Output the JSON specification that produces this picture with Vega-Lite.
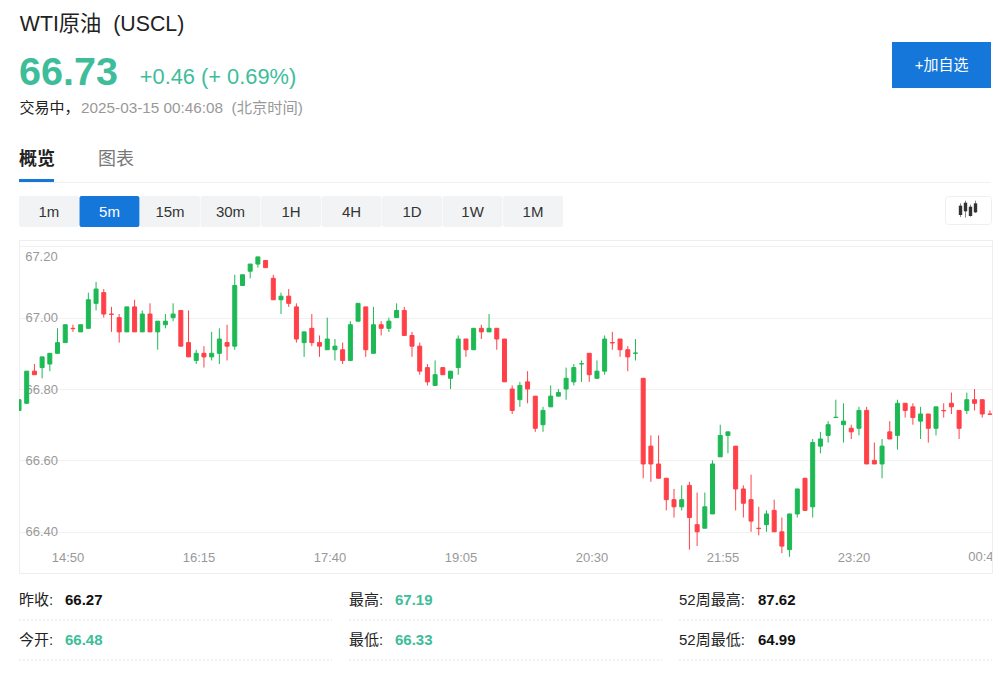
{"$schema":"https://vega.github.io/schema/vega-lite/v6.json","background":"white","padding":{"left":18,"right":15,"top":0,"bottom":0},"config":{"font":"Liberation Sans, Noto Sans CJK SC","view":{"stroke":null},"text":{"font":"Liberation Sans, Noto Sans CJK SC"}},"spacing":12,"vconcat":[
{"spacing":0,"vconcat":[
{"spacing":595,"hconcat":[
{"spacing":0,"vconcat":[
{"width":166,"height":48,"data":{"values":[{"label":"WTI原油\u00a0\u00a0(USCL)"}]},"mark":{"type":"text","fontSize":21.3,"color":"#222222","dy":1},"encoding":{"text":{"field":"label"}}},
{"spacing":21,"hconcat":[
{"width":99,"height":48,"data":{"values":[{"label":"66.73"}]},"mark":{"type":"text","fontSize":39.5,"fontWeight":"bold","color":"#3dbd9a","dy":1},"encoding":{"text":{"field":"label"}}},
{"width":158,"height":48,"data":{"values":[{"label":"+0.46 (+ 0.69%)"}]},"mark":{"type":"text","fontSize":21.8,"color":"#3dbd9a","dy":5},"encoding":{"text":{"field":"label"}}}
]}
]},
{"spacing":0,"vconcat":[
{"width":99,"height":42,"data":{"values":[{"part":"gap"}]},"mark":{"type":"bar","opacity":0},"encoding":{}},
{"width":99,"height":46,"data":{"values":[{"label":"+加自选"}]},"layer":[{"mark":{"type":"bar","color":"#1677db"},"encoding":{}},{"mark":{"type":"text","fontSize":15,"color":"white"},"encoding":{"text":{"field":"label"}}}]}
]}
]},
{"spacing":0,"hconcat":[
{"width":61,"height":24,"data":{"values":[{"label":"交易中\uff0c"}]},"mark":{"type":"text","fontSize":15,"color":"#222222"},"encoding":{"text":{"field":"label"}}},
{"width":224,"height":24,"data":{"values":[{"label":"2025-03-15 00:46:08\u00a0\u00a0(北京时间)"}]},"mark":{"type":"text","fontSize":15.3,"color":"#999999"},"encoding":{"text":{"field":"label"}}}
]},
{"spacing":43,"hconcat":[
{"width":36,"height":59,"data":{"values":[{"label":"概览"}]},"mark":{"type":"text","fontSize":18,"fontWeight":"bold","color":"#222222","dy":10.5},"encoding":{"text":{"field":"label"}}},
{"width":36,"height":59,"data":{"values":[{"label":"图表"}]},"mark":{"type":"text","fontSize":18,"color":"#777777","dy":10.5},"encoding":{"text":{"field":"label"}}}
]},
{"width":35,"height":3,"data":{"values":[{"part":"tab"}]},"mark":{"type":"bar","color":"#1677db"},"encoding":{}},
{"width":972,"height":1,"data":{"values":[{"part":"line"}]},"mark":{"type":"bar","color":"#f0f0f0"},"encoding":{}}
]},
{"spacing":381,"hconcat":[
{"width":544,"height":31,"data":{"values":[{"label":"1m","on":false},{"label":"5m","on":true},{"label":"15m","on":false},{"label":"30m","on":false},{"label":"1H","on":false},{"label":"4H","on":false},{"label":"1D","on":false},{"label":"1W","on":false},{"label":"1M","on":false}]},"encoding":{"x":{"field":"label","type":"nominal","sort":null,"axis":null,"scale":{"type":"band","paddingInner":0.01,"paddingOuter":0}}},"layer":[{"mark":{"type":"bar","cornerRadius":2},"encoding":{"color":{"condition":{"test":"datum.on","value":"#1677db"},"value":"#f2f3f5"}}},{"mark":{"type":"text","fontSize":15},"encoding":{"text":{"field":"label"},"color":{"condition":{"test":"datum.on","value":"white"},"value":"#333333"}}}]},
{"width":46,"height":28,"view":{"stroke":"#eceff4","fill":"white","cornerRadius":3},"data":{"values":[{"c":"a","lo":21,"hi":62,"b0":27,"b1":55},{"c":"b","lo":19,"hi":70,"b0":38,"b1":64},{"c":"c","lo":22,"hi":58,"b0":24,"b1":52},{"c":"d","lo":33,"hi":70,"b0":35,"b1":62}]},"encoding":{"x":{"field":"c","type":"nominal","axis":null,"scale":{"type":"point","padding":0,"range":[15.5,30.5]}}},"layer":[{"mark":{"type":"rule","color":"#888888","strokeWidth":1},"encoding":{"y":{"field":"lo","type":"quantitative","axis":null,"scale":{"domain":[0,84],"nice":false}},"y2":{"field":"hi"}}},{"mark":{"type":"bar","color":"#333333","size":3.4},"encoding":{"y":{"field":"b0","type":"quantitative","axis":null,"scale":{"domain":[0,84],"nice":false}},"y2":{"field":"b1"}}}]}
]},
{"width":973,"height":333,"view":{"stroke":"#eeeeee"},"encoding":{"x":{"field":"t","type":"temporal","title":null,"scale":{"domain":["2025-03-14T14:20","2025-03-15T00:51:20"],"nice":false,"padding":0},"axis":{"values":["2025-03-14T14:50","2025-03-14T16:15","2025-03-14T17:40","2025-03-14T19:05","2025-03-14T20:30","2025-03-14T21:55","2025-03-14T23:20"],"format":"%H:%M","domain":false,"ticks":false,"grid":false,"labelPadding":0,"offset":-22,"labelOffset":2.3,"labelBaseline":"top","labelColor":"#999999","labelFontSize":13,"labelOverlap":false,"labelFlush":false}}},"layer":[
{"data":{"name":"candles"},"mark":{"type":"rule","strokeWidth":1,"clip":true},"encoding":{"y":{"field":"l","type":"quantitative","title":null,"scale":{"domain":[66.2846,67.2174],"nice":false,"zero":false},"axis":{"values":[66.4,66.6,66.8,67.0,67.2],"format":".2f","labelExpr":"datum.value>67.1?'':datum.label","orient":"left","offset":-6,"domain":false,"ticks":false,"tickSize":0,"labelPadding":0,"labelAlign":"left","labelColor":"#999999","labelFontSize":13,"grid":true,"gridColor":"#f1f1f1","gridWidth":1}},"y2":{"field":"h"},"color":{"condition":{"test":"datum.c>=datum.o","value":"#1db954"},"value":"#ff4048"}}},
{"data":{"name":"candles"},"mark":{"type":"bar","size":4,"strokeWidth":1,"clip":true},"encoding":{"y":{"field":"o","type":"quantitative"},"y2":{"field":"c"},"color":{"condition":{"test":"datum.c>=datum.o","value":"#1db954"},"value":"#ff4048"},"stroke":{"condition":{"test":"datum.c>=datum.o","value":"#1db954"},"value":"#ff4048"}}},
{"data":{"values":[{"t":"2025-03-15T00:45","label":"00:45"}]},"mark":{"type":"text","fontSize":13,"color":"#999999","clip":true,"dx":2.3},"encoding":{"y":{"datum":66.329,"type":"quantitative"},"text":{"field":"label"}}},
{"data":{"values":[{"t":"2025-03-14T14:24:00","label":"67.20"}]},"mark":{"type":"text","align":"left","fontSize":13,"color":"#999999"},"encoding":{"y":{"datum":67.169,"type":"quantitative"},"text":{"field":"label"}}}
]},
{"width":973,"height":89,"data":{"values":[{"col":"a","row":"r1","label":"昨收:","value":"66.27","tone":"plain"},{"col":"b","row":"r1","label":"最高:","value":"67.19","tone":"up"},{"col":"c","row":"r1","label":"52周最高:","value":"87.62","tone":"plain"},{"col":"a","row":"r2","label":"今开:","value":"66.48","tone":"up"},{"col":"b","row":"r2","label":"最低:","value":"66.33","tone":"up"},{"col":"c","row":"r2","label":"52周最低:","value":"64.99","tone":"plain"}]},"encoding":{"x":{"field":"col","type":"nominal","axis":null,"scale":{"type":"point","padding":0,"range":[0,660]}},"y":{"field":"row","type":"nominal","axis":null,"scale":{"type":"point","padding":0,"range":[34,74]}}},"layer":[
{"mark":{"type":"rule","color":"#e2e2e2","strokeDash":[2,2],"x2Offset":313},"encoding":{"x2":{"field":"col"}}},
{"mark":{"type":"text","align":"left","fontSize":15,"color":"#222222","dy":-20},"encoding":{"text":{"field":"label"}}},
{"transform":[{"filter":"datum.col!=='c'"}],"mark":{"type":"text","align":"left","fontSize":15,"fontWeight":"bold","dx":46,"dy":-20},"encoding":{"text":{"field":"value"},"color":{"condition":{"test":"datum.tone==='up'","value":"#3dbd9a"},"value":"#111111"}}},
{"transform":[{"filter":"datum.col==='c'"}],"mark":{"type":"text","align":"left","fontSize":15,"fontWeight":"bold","dx":79,"dy":-20},"encoding":{"text":{"field":"value"},"color":{"value":"#111111"}}}
]}
],"datasets":{"candles":[
{"t":"2025-03-14T14:20","o":66.74,"h":66.77,"l":66.74,"c":66.77},
{"t":"2025-03-14T14:25","o":66.76,"h":66.85,"l":66.76,"c":66.85},
{"t":"2025-03-14T14:30","o":66.85,"h":66.87,"l":66.84,"c":66.84},
{"t":"2025-03-14T14:35","o":66.86,"h":66.89,"l":66.83,"c":66.89},
{"t":"2025-03-14T14:40","o":66.87,"h":66.90,"l":66.85,"c":66.90},
{"t":"2025-03-14T14:45","o":66.90,"h":66.97,"l":66.90,"c":66.93},
{"t":"2025-03-14T14:50","o":66.93,"h":66.98,"l":66.93,"c":66.98},
{"t":"2025-03-14T14:55","o":66.97,"h":66.98,"l":66.96,"c":66.969},
{"t":"2025-03-14T15:00","o":66.96,"h":66.98,"l":66.96,"c":66.98},
{"t":"2025-03-14T15:05","o":66.97,"h":67.07,"l":66.97,"c":67.05},
{"t":"2025-03-14T15:10","o":67.04,"h":67.10,"l":67.02,"c":67.08},
{"t":"2025-03-14T15:15","o":67.07,"h":67.08,"l":67.00,"c":67.01},
{"t":"2025-03-14T15:20","o":67.01,"h":67.03,"l":66.96,"c":67.009},
{"t":"2025-03-14T15:25","o":67.00,"h":67.01,"l":66.93,"c":66.96},
{"t":"2025-03-14T15:30","o":66.96,"h":67.03,"l":66.96,"c":67.03},
{"t":"2025-03-14T15:35","o":67.03,"h":67.05,"l":66.96,"c":66.96},
{"t":"2025-03-14T15:40","o":66.96,"h":67.02,"l":66.96,"c":67.01},
{"t":"2025-03-14T15:45","o":67.01,"h":67.04,"l":66.96,"c":66.96},
{"t":"2025-03-14T15:50","o":66.96,"h":66.99,"l":66.91,"c":66.99},
{"t":"2025-03-14T15:55","o":66.98,"h":67.01,"l":66.97,"c":66.99},
{"t":"2025-03-14T16:00","o":67.00,"h":67.04,"l":66.99,"c":67.01},
{"t":"2025-03-14T16:05","o":67.02,"h":67.02,"l":66.92,"c":66.92},
{"t":"2025-03-14T16:10","o":66.93,"h":67.02,"l":66.89,"c":66.89},
{"t":"2025-03-14T16:15","o":66.88,"h":66.91,"l":66.87,"c":66.90},
{"t":"2025-03-14T16:20","o":66.90,"h":66.92,"l":66.86,"c":66.89},
{"t":"2025-03-14T16:25","o":66.89,"h":66.96,"l":66.88,"c":66.90},
{"t":"2025-03-14T16:30","o":66.90,"h":66.97,"l":66.87,"c":66.94},
{"t":"2025-03-14T16:35","o":66.93,"h":66.98,"l":66.88,"c":66.92},
{"t":"2025-03-14T16:40","o":66.92,"h":67.12,"l":66.91,"c":67.09},
{"t":"2025-03-14T16:45","o":67.09,"h":67.12,"l":67.09,"c":67.12},
{"t":"2025-03-14T16:50","o":67.13,"h":67.15,"l":67.11,"c":67.15},
{"t":"2025-03-14T16:55","o":67.15,"h":67.17,"l":67.14,"c":67.17},
{"t":"2025-03-14T17:00","o":67.16,"h":67.16,"l":67.14,"c":67.14},
{"t":"2025-03-14T17:05","o":67.11,"h":67.12,"l":67.05,"c":67.05},
{"t":"2025-03-14T17:10","o":67.05,"h":67.07,"l":67.01,"c":67.06},
{"t":"2025-03-14T17:15","o":67.06,"h":67.08,"l":67.03,"c":67.04},
{"t":"2025-03-14T17:20","o":67.03,"h":67.04,"l":66.93,"c":66.94},
{"t":"2025-03-14T17:25","o":66.93,"h":66.96,"l":66.89,"c":66.96},
{"t":"2025-03-14T17:30","o":66.97,"h":67.01,"l":66.92,"c":66.93},
{"t":"2025-03-14T17:35","o":66.93,"h":66.95,"l":66.89,"c":66.92},
{"t":"2025-03-14T17:40","o":66.91,"h":67.00,"l":66.91,"c":66.94},
{"t":"2025-03-14T17:45","o":66.91,"h":66.94,"l":66.88,"c":66.92},
{"t":"2025-03-14T17:50","o":66.91,"h":66.93,"l":66.87,"c":66.88},
{"t":"2025-03-14T17:55","o":66.88,"h":66.99,"l":66.88,"c":66.98},
{"t":"2025-03-14T18:00","o":66.99,"h":67.04,"l":66.99,"c":67.04},
{"t":"2025-03-14T18:05","o":67.03,"h":67.03,"l":66.89,"c":66.91},
{"t":"2025-03-14T18:10","o":66.90,"h":67.03,"l":66.90,"c":66.98},
{"t":"2025-03-14T18:15","o":66.98,"h":66.99,"l":66.95,"c":66.97},
{"t":"2025-03-14T18:20","o":66.97,"h":67.00,"l":66.96,"c":66.99},
{"t":"2025-03-14T18:25","o":67.00,"h":67.04,"l":67.00,"c":67.02},
{"t":"2025-03-14T18:30","o":67.02,"h":67.03,"l":66.95,"c":66.95},
{"t":"2025-03-14T18:35","o":66.95,"h":66.96,"l":66.89,"c":66.92},
{"t":"2025-03-14T18:40","o":66.92,"h":66.93,"l":66.84,"c":66.85},
{"t":"2025-03-14T18:45","o":66.86,"h":66.87,"l":66.81,"c":66.82},
{"t":"2025-03-14T18:50","o":66.81,"h":66.88,"l":66.81,"c":66.84},
{"t":"2025-03-14T18:55","o":66.86,"h":66.86,"l":66.84,"c":66.84},
{"t":"2025-03-14T19:00","o":66.83,"h":66.85,"l":66.80,"c":66.85},
{"t":"2025-03-14T19:05","o":66.86,"h":66.95,"l":66.84,"c":66.94},
{"t":"2025-03-14T19:10","o":66.94,"h":66.94,"l":66.89,"c":66.91},
{"t":"2025-03-14T19:15","o":66.91,"h":66.97,"l":66.91,"c":66.97},
{"t":"2025-03-14T19:20","o":66.97,"h":66.98,"l":66.94,"c":66.96},
{"t":"2025-03-14T19:25","o":66.96,"h":67.01,"l":66.96,"c":66.97},
{"t":"2025-03-14T19:30","o":66.97,"h":66.97,"l":66.91,"c":66.94},
{"t":"2025-03-14T19:35","o":66.94,"h":66.94,"l":66.82,"c":66.82},
{"t":"2025-03-14T19:40","o":66.80,"h":66.81,"l":66.73,"c":66.74},
{"t":"2025-03-14T19:45","o":66.77,"h":66.82,"l":66.75,"c":66.81},
{"t":"2025-03-14T19:50","o":66.82,"h":66.85,"l":66.76,"c":66.80},
{"t":"2025-03-14T19:55","o":66.78,"h":66.78,"l":66.68,"c":66.69},
{"t":"2025-03-14T20:00","o":66.70,"h":66.75,"l":66.68,"c":66.74},
{"t":"2025-03-14T20:05","o":66.75,"h":66.81,"l":66.75,"c":66.78},
{"t":"2025-03-14T20:10","o":66.78,"h":66.80,"l":66.78,"c":66.79},
{"t":"2025-03-14T20:15","o":66.80,"h":66.86,"l":66.77,"c":66.83},
{"t":"2025-03-14T20:20","o":66.82,"h":66.87,"l":66.81,"c":66.86},
{"t":"2025-03-14T20:25","o":66.87,"h":66.88,"l":66.82,"c":66.871},
{"t":"2025-03-14T20:30","o":66.90,"h":66.90,"l":66.82,"c":66.84},
{"t":"2025-03-14T20:35","o":66.83,"h":66.88,"l":66.83,"c":66.85},
{"t":"2025-03-14T20:40","o":66.85,"h":66.95,"l":66.84,"c":66.94},
{"t":"2025-03-14T20:45","o":66.93,"h":66.96,"l":66.91,"c":66.929},
{"t":"2025-03-14T20:50","o":66.94,"h":66.94,"l":66.89,"c":66.91},
{"t":"2025-03-14T20:55","o":66.91,"h":66.92,"l":66.85,"c":66.89},
{"t":"2025-03-14T21:00","o":66.90,"h":66.94,"l":66.88,"c":66.901},
{"t":"2025-03-14T21:05","o":66.83,"h":66.83,"l":66.55,"c":66.59},
{"t":"2025-03-14T21:10","o":66.64,"h":66.67,"l":66.54,"c":66.59},
{"t":"2025-03-14T21:15","o":66.59,"h":66.67,"l":66.55,"c":66.55},
{"t":"2025-03-14T21:20","o":66.55,"h":66.55,"l":66.46,"c":66.49},
{"t":"2025-03-14T21:25","o":66.49,"h":66.52,"l":66.44,"c":66.47},
{"t":"2025-03-14T21:30","o":66.47,"h":66.53,"l":66.46,"c":66.49},
{"t":"2025-03-14T21:35","o":66.53,"h":66.54,"l":66.35,"c":66.44},
{"t":"2025-03-14T21:40","o":66.42,"h":66.51,"l":66.36,"c":66.40},
{"t":"2025-03-14T21:45","o":66.41,"h":66.51,"l":66.41,"c":66.47},
{"t":"2025-03-14T21:50","o":66.45,"h":66.60,"l":66.45,"c":66.59},
{"t":"2025-03-14T21:55","o":66.61,"h":66.70,"l":66.61,"c":66.67},
{"t":"2025-03-14T22:00","o":66.67,"h":66.68,"l":66.62,"c":66.68},
{"t":"2025-03-14T22:05","o":66.64,"h":66.64,"l":66.46,"c":66.52},
{"t":"2025-03-14T22:10","o":66.52,"h":66.53,"l":66.44,"c":66.48},
{"t":"2025-03-14T22:15","o":66.49,"h":66.56,"l":66.40,"c":66.43},
{"t":"2025-03-14T22:20","o":66.41,"h":66.47,"l":66.39,"c":66.409},
{"t":"2025-03-14T22:25","o":66.42,"h":66.46,"l":66.40,"c":66.45},
{"t":"2025-03-14T22:30","o":66.46,"h":66.49,"l":66.40,"c":66.40},
{"t":"2025-03-14T22:35","o":66.40,"h":66.44,"l":66.34,"c":66.36},
{"t":"2025-03-14T22:40","o":66.35,"h":66.45,"l":66.33,"c":66.45},
{"t":"2025-03-14T22:45","o":66.45,"h":66.52,"l":66.44,"c":66.52},
{"t":"2025-03-14T22:50","o":66.55,"h":66.55,"l":66.46,"c":66.46},
{"t":"2025-03-14T22:55","o":66.47,"h":66.66,"l":66.44,"c":66.65},
{"t":"2025-03-14T23:00","o":66.64,"h":66.68,"l":66.62,"c":66.66},
{"t":"2025-03-14T23:05","o":66.67,"h":66.71,"l":66.65,"c":66.70},
{"t":"2025-03-14T23:10","o":66.72,"h":66.77,"l":66.72,"c":66.721},
{"t":"2025-03-14T23:15","o":66.70,"h":66.76,"l":66.65,"c":66.71},
{"t":"2025-03-14T23:20","o":66.69,"h":66.70,"l":66.66,"c":66.68},
{"t":"2025-03-14T23:25","o":66.69,"h":66.75,"l":66.67,"c":66.74},
{"t":"2025-03-14T23:30","o":66.74,"h":66.75,"l":66.59,"c":66.59},
{"t":"2025-03-14T23:35","o":66.60,"h":66.65,"l":66.59,"c":66.59},
{"t":"2025-03-14T23:40","o":66.59,"h":66.66,"l":66.55,"c":66.64},
{"t":"2025-03-14T23:45","o":66.68,"h":66.71,"l":66.66,"c":66.66},
{"t":"2025-03-14T23:50","o":66.67,"h":66.77,"l":66.63,"c":66.76},
{"t":"2025-03-14T23:55","o":66.76,"h":66.76,"l":66.72,"c":66.74},
{"t":"2025-03-15T00:00","o":66.75,"h":66.76,"l":66.70,"c":66.72},
{"t":"2025-03-15T00:05","o":66.71,"h":66.75,"l":66.66,"c":66.73},
{"t":"2025-03-15T00:10","o":66.73,"h":66.73,"l":66.65,"c":66.69},
{"t":"2025-03-15T00:15","o":66.69,"h":66.75,"l":66.67,"c":66.75},
{"t":"2025-03-15T00:20","o":66.74,"h":66.76,"l":66.72,"c":66.739},
{"t":"2025-03-15T00:25","o":66.76,"h":66.79,"l":66.73,"c":66.75},
{"t":"2025-03-15T00:30","o":66.74,"h":66.74,"l":66.66,"c":66.69},
{"t":"2025-03-15T00:35","o":66.74,"h":66.79,"l":66.73,"c":66.77},
{"t":"2025-03-15T00:40","o":66.77,"h":66.80,"l":66.74,"c":66.76},
{"t":"2025-03-15T00:45","o":66.77,"h":66.77,"l":66.72,"c":66.73},
{"t":"2025-03-15T00:50","o":66.73,"h":66.74,"l":66.73,"c":66.729}
]}}
